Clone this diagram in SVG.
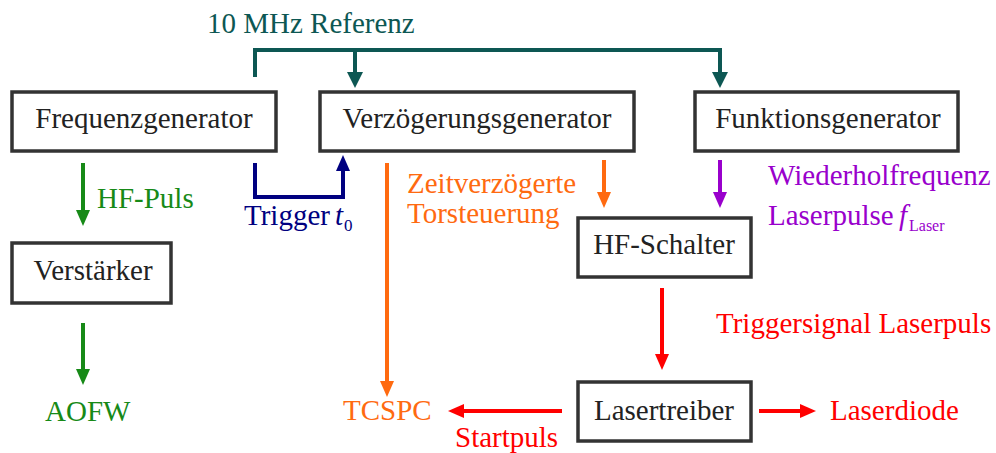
<svg xmlns="http://www.w3.org/2000/svg" width="996" height="453" viewBox="0 0 996 453">
<style>
.box{fill:#fff;stroke:#333;stroke-width:3.5}
.ln{fill:none;stroke-width:4}
</style>
<defs>
<marker id="mTeal" markerUnits="userSpaceOnUse" markerWidth="16" markerHeight="16" refX="6" refY="8" orient="auto"><path d="M0,0 L16,8 L0,16 z" fill="#0d5753"/></marker>
<marker id="mGreen" markerUnits="userSpaceOnUse" markerWidth="16" markerHeight="14" refX="6" refY="7" orient="auto"><path d="M0,0 L16,7 L0,14 z" fill="#178a17"/></marker>
<marker id="mBlue" markerUnits="userSpaceOnUse" markerWidth="16" markerHeight="14" refX="6" refY="7" orient="auto"><path d="M0,0 L16,7 L0,14 z" fill="#000080"/></marker>
<marker id="mOrange" markerUnits="userSpaceOnUse" markerWidth="16" markerHeight="14" refX="6" refY="7" orient="auto"><path d="M0,0 L16,7 L0,14 z" fill="#ff6a10"/></marker>
<marker id="mPurple" markerUnits="userSpaceOnUse" markerWidth="16" markerHeight="14" refX="6" refY="7" orient="auto"><path d="M0,0 L16,7 L0,14 z" fill="#9900cc"/></marker>
<marker id="mRed" markerUnits="userSpaceOnUse" markerWidth="16" markerHeight="14" refX="6" refY="7" orient="auto"><path d="M0,0 L16,7 L0,14 z" fill="#ff0000"/></marker>
</defs>
<rect width="996" height="453" fill="#fff"/>

<g id="connectors">
<path class="ln" d="M255,77 V50 H720 V78" stroke="#0d5753" marker-end="url(#mTeal)"/>
<path class="ln" d="M355,50 V78" stroke="#0d5753" marker-end="url(#mTeal)"/>
<path class="ln" d="M83,163 V216" stroke="#178a17" marker-end="url(#mGreen)"/>
<path class="ln" d="M83,323 V375" stroke="#178a17" marker-end="url(#mGreen)"/>
<path class="ln" d="M255,163 V197 H343 V165" stroke="#000080" marker-end="url(#mBlue)"/>
<path class="ln" d="M387,163 V387" stroke="#ff6a10" marker-end="url(#mOrange)"/>
<path class="ln" d="M604,160 V198" stroke="#ff6a10" marker-end="url(#mOrange)"/>
<path class="ln" d="M720,160 V198" stroke="#9900cc" marker-end="url(#mPurple)"/>
<path class="ln" d="M662,288 V360" stroke="#ff0000" marker-end="url(#mRed)"/>
<path class="ln" d="M562,411 H458" stroke="#ff0000" marker-end="url(#mRed)"/>
<path class="ln" d="M759,411 H806" stroke="#ff0000" marker-end="url(#mRed)"/>
</g>

<g font-family="'Liberation Serif', 'Times New Roman', serif" font-size="29">
<g id="frequenzgenerator"><rect class="box" x="12" y="92" width="264" height="59"/><text x="144" y="128" text-anchor="middle" fill="#222">Frequenzgenerator</text></g>
<g id="verzoegerungsgenerator"><rect class="box" x="320" y="92" width="314" height="59"/><text x="477" y="128" text-anchor="middle" fill="#222">Verzögerungsgenerator</text></g>
<g id="funktionsgenerator"><rect class="box" x="695" y="92" width="263" height="59"/><text x="828" y="128" text-anchor="middle" fill="#222">Funktionsgenerator</text></g>
<g id="verstaerker"><rect class="box" x="12" y="243" width="159" height="60"/><text x="93" y="280" text-anchor="middle" fill="#222">Verstärker</text></g>
<g id="hf-schalter"><rect class="box" x="578" y="218" width="173" height="59"/><text x="664" y="254" text-anchor="middle" fill="#222">HF-Schalter</text></g>
<g id="lasertreiber"><rect class="box" x="578" y="382" width="173" height="59"/><text x="664" y="420" text-anchor="middle" fill="#222">Lasertreiber</text></g>

<g id="labels">
<text x="207" y="33" fill="#0d5753">10 MHz Referenz</text>
<text x="97" y="208" fill="#178a17">HF-Puls</text>
<text x="45" y="421" fill="#178a17">AOFW</text>
<text x="244" y="225" fill="#000080">Trigger</text>
<text x="335" y="225" fill="#000080" font-style="italic">t</text>
<text x="344" y="231" fill="#000080" font-size="17">0</text>
<text x="407" y="193" fill="#ff6a10">Zeitverzögerte</text>
<text x="407" y="223" fill="#ff6a10">Torsteuerung</text>
<text x="768" y="185" fill="#9900cc">Wiederholfrequenz</text>
<text x="768" y="225" fill="#9900cc">Laserpulse</text>
<text x="899" y="225" fill="#9900cc" font-style="italic">f</text>
<text x="909" y="231" fill="#9900cc" font-size="16">Laser</text>
<text x="716" y="333" fill="#ff0000">Triggersignal Laserpuls</text>
<text x="343" y="420" fill="#ff6a10">TCSPC</text>
<text x="455" y="447" fill="#ff0000">Startpuls</text>
<text x="830" y="420" fill="#ff0000">Laserdiode</text>
</g>
</g>
</svg>
